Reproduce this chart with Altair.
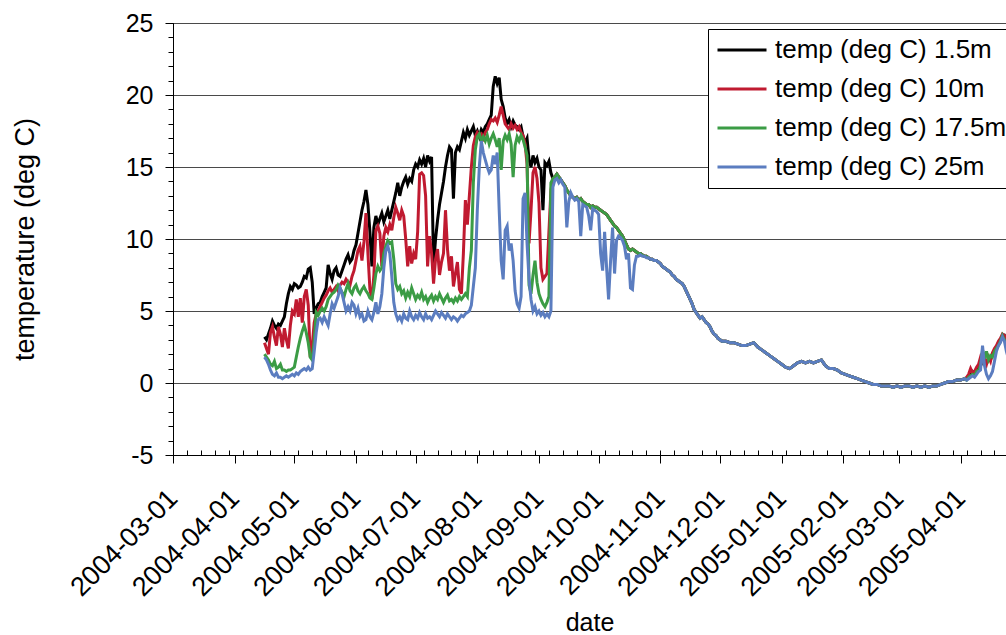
import altair as alt
import pandas as pd

START = pd.Timestamp("2004-03-01")

series_names = ["temp (deg C) 1.5m", "temp (deg C) 10m", "temp (deg C) 17.5m", "temp (deg C) 25m"]
series_colors = ["#000000", "#c01a30", "#3b9c45", "#5b7dc0"]

# ---- segment A: day 46 .. 190 (daily), all four depths differ ----
black_a = [3.2, 3.0, 3.4, 3.8, 4.3, 4.0, 3.8, 4.1, 4.0, 4.3,
           4.6, 5.5, 6.2, 6.7, 6.5, 6.9, 6.8, 6.6, 6.7, 7.0,
           7.4, 7.3, 7.9, 8.0, 7.0, 4.8, 5.2, 5.5, 5.6, 6.0,
           6.3, 6.6, 8.2, 7.6, 7.2, 7.8, 8.0, 7.5, 7.4, 7.8,
           8.2, 8.6, 8.9, 8.4, 8.6, 9.2, 9.6, 10.4, 11.2, 12.0,
           12.6, 13.4, 12.4, 10.5, 8.1, 10.8, 11.6, 11.0, 11.4, 11.8,
           11.2, 11.6, 12.0, 11.4, 12.0, 12.6, 13.2, 13.9, 13.0, 13.6,
           14.0, 14.3, 13.8, 14.2, 14.0, 14.8, 15.2, 15.0, 15.5, 15.2,
           15.6, 15.0, 15.8, 15.4, 15.7, 8.1, 10.0, 11.3, 12.4, 13.2,
           14.0, 15.0, 15.8, 16.4, 16.2, 12.8, 16.0, 16.4, 16.2, 16.8,
           17.4, 17.0, 17.6, 17.2, 17.5, 17.8, 17.2, 17.5, 17.1, 17.6,
           17.4, 17.8, 18.0, 18.3, 18.6, 20.6, 21.3, 20.8, 21.2, 19.7,
           19.2, 18.4, 18.0, 18.3, 17.8, 18.2, 17.9, 17.8, 17.6, 17.8,
           17.1, 16.7, 17.0, 15.5, 15.0, 15.8, 15.3, 15.6, 15.0, 14.8,
           12.0, 15.3, 15.1, 15.4, 14.6]
red_a = [2.8, 2.4, 2.0, 3.5, 3.9, 3.2, 2.6, 3.9, 3.4, 2.5,
         3.8, 3.0, 2.4, 4.0, 5.0, 4.8, 5.8, 4.6, 5.9, 4.2,
         6.0, 6.5, 5.4, 1.8, 2.6, 4.2, 4.8, 5.0, 5.3, 5.6,
         5.9, 6.1, 6.4, 6.6, 6.3, 6.5, 6.7, 6.4, 6.8, 7.0,
         6.9, 7.2, 7.0, 6.8, 7.4, 7.8, 8.5, 9.2, 9.5, 8.5,
         9.8, 11.8, 9.0, 6.5, 5.8, 7.5, 10.6, 10.9, 10.4, 8.1,
         10.2, 10.8, 10.5, 11.0, 10.6, 11.5, 12.2, 11.8, 11.3, 12.0,
         11.6, 10.0, 8.1, 9.5, 8.3, 9.0, 8.6, 10.5, 14.5, 14.6,
         14.4, 13.0, 8.1, 10.2, 9.0, 6.9, 8.6, 9.3, 7.5, 8.4,
         9.0, 12.0, 9.3, 7.8, 8.8, 6.7, 7.6, 8.4, 6.5, 6.2,
         9.0, 12.7, 11.0, 13.0, 15.0, 16.5, 17.1, 17.4, 17.2, 17.3,
         17.0, 17.4, 17.6, 18.0, 18.3, 18.2, 18.4, 18.1, 18.6, 19.2,
         18.6, 18.0, 17.8, 17.6, 18.0, 17.7, 17.9, 17.6, 17.8, 17.4,
         17.2, 16.6, 15.2, 9.7, 12.0, 14.6, 15.0, 14.2, 12.5, 8.0,
         7.2, 7.4, 7.6, 10.5, 13.4]
green_a = [2.0, 1.8, 1.6, 1.3, 1.2, 1.5, 1.0, 1.1, 1.3, 0.9,
           0.9, 0.8, 0.9, 0.9, 1.0, 1.1, 1.8, 2.5, 3.1, 3.6,
           4.0, 3.5, 2.8, 1.8, 1.6, 3.0, 4.9, 4.7, 5.0, 5.2,
           5.0, 5.3, 5.8, 6.0, 6.2, 6.3, 6.5, 6.8, 6.6, 6.3,
           6.0, 6.5, 6.9, 6.4, 6.2, 6.6, 6.8, 6.4, 6.2, 6.5,
           6.7, 6.4, 6.2, 5.9, 5.8, 6.6, 7.6, 8.1, 7.8, 8.0,
           9.0, 9.5, 9.9, 9.7, 9.8, 8.6, 6.9, 6.5, 6.7, 6.2,
           6.4, 5.9, 6.3, 6.0, 6.6, 6.2, 5.8, 6.1, 5.9, 6.3,
           5.8, 6.0, 5.6, 5.9, 6.1, 5.7, 6.0, 5.8, 6.2, 5.9,
           5.6, 5.9, 6.1, 5.7, 5.8, 5.6, 5.9, 5.7, 6.0, 5.8,
           6.0, 6.2, 6.0, 8.0, 9.2, 13.9, 16.2, 17.1, 17.3, 16.8,
           17.1, 16.8, 17.2, 16.6, 17.0, 17.3, 16.9, 16.4, 17.0, 14.8,
           16.8, 17.2, 16.9, 17.3, 16.6, 14.3, 16.5, 17.1, 16.8, 17.2,
           16.9, 16.4, 15.8, 6.8, 6.2, 7.5, 8.5, 7.0, 6.2, 5.8,
           5.5, 5.3, 5.6, 6.0, 13.9]
blue_a = [1.8, 1.6, 1.3, 0.9, 0.6, 0.5, 0.7, 0.4, 0.4, 0.3,
          0.4, 0.5, 0.4, 0.5, 0.6, 0.5, 0.7, 0.6, 0.8, 0.9,
          1.0, 0.9, 1.1, 0.9, 1.0, 2.2, 3.5, 4.4, 4.5, 4.2,
          4.6, 4.3, 4.0, 4.8, 5.5, 5.2, 5.6, 6.0, 6.6, 6.2,
          5.6, 5.0, 5.3, 5.0, 5.6, 5.4, 4.8, 5.2, 4.6, 4.8,
          4.3, 4.4, 5.0, 4.6, 4.4, 4.9, 5.6, 4.8, 5.3, 6.2,
          8.0, 9.2, 9.5, 9.0, 7.4, 5.6, 4.8, 4.4, 4.6, 4.3,
          4.8, 4.5, 4.4, 5.0, 4.6, 4.4, 4.7, 4.5, 4.9, 4.6,
          4.4, 4.8, 4.5, 4.6, 4.4, 4.7, 5.0, 4.8, 4.6, 4.9,
          4.7, 4.5, 4.8, 4.6, 4.4, 4.6, 4.5, 4.3, 4.5, 4.7,
          4.6, 4.8, 4.9, 5.0, 5.4, 6.7, 8.0, 12.0, 15.0, 16.8,
          16.0, 15.5, 15.0, 14.6, 14.8, 15.8, 15.2, 16.0, 12.0, 8.5,
          7.2, 10.6, 10.9, 9.2, 9.7, 8.5, 6.4, 5.5, 5.2, 6.0,
          12.8, 13.2, 9.7, 7.2, 5.8, 5.0, 5.3, 4.8, 5.0, 4.7,
          4.9, 4.6, 4.8, 4.6, 5.0]

# ---- segment B: day 191 .. 239 (daily): 1.5m/10m/17.5m together, 25m apart ----
upper_b = [14.2, 14.3, 14.5, 14.3, 14.1, 13.9, 13.7, 13.4, 13.2, 13.0,
           12.9, 12.8, 12.9, 12.7, 12.8, 12.6, 12.5, 12.4, 12.4, 12.2,
           12.3, 12.2, 12.2, 12.1, 12.0, 11.9, 11.8, 11.7, 11.5, 11.3,
           11.1, 10.9, 10.8, 10.6, 10.4, 10.2, 9.9, 9.6, 9.3, 9.2,
           9.3, 9.2, 9.1, 9.0, 9.0, 8.9, 8.8, 8.8, 8.7]
blue_b = [13.6, 14.1, 14.2, 13.9, 14.1, 13.8, 13.6, 10.8, 12.6, 13.2,
          12.9, 12.7, 12.8, 12.6, 10.2, 12.4, 12.3, 12.2, 11.6, 10.6,
          12.1, 12.0, 11.9, 11.7, 9.0, 7.8, 10.5, 8.0, 5.8, 8.5,
          10.8, 7.6, 9.9, 10.2, 10.1, 9.9, 9.5, 8.6, 9.0, 6.6,
          6.5, 8.2, 8.8, 8.8, 8.9, 8.8, 8.8, 8.7, 8.7]

# ---- segment C: all depths coincide; day 240..276 daily, then 278..398 every 2 days ----
common_c1 = [8.6, 8.6, 8.5, 8.5, 8.4, 8.3, 8.1, 8.0, 7.9, 7.8,
             7.7, 7.5, 7.4, 7.2, 7.1, 7.0, 6.9, 6.7, 6.4, 6.1,
             5.8, 5.5, 5.1, 4.9, 4.7, 4.5, 4.6, 4.4, 4.2, 4.1,
             3.9, 3.6, 3.4, 3.3, 3.1, 3.0, 2.9]
common_c2 = [2.9, 2.8, 2.8, 2.7, 2.6, 2.6, 2.7, 2.8, 2.5, 2.3,
             2.1, 1.9, 1.7, 1.5, 1.3, 1.1, 1.0, 1.2, 1.4, 1.5,
             1.4, 1.5, 1.4, 1.5, 1.6, 1.2, 1.0, 1.0, 0.9, 0.7,
             0.6, 0.5, 0.4, 0.3, 0.2, 0.1, 0.0, -0.1, -0.1, -0.2,
             -0.2, -0.2, -0.3, -0.2, -0.3, -0.2, -0.2, -0.3, -0.2, -0.3,
             -0.2, -0.3, -0.2, -0.2, -0.1, 0.0, 0.1, 0.1, 0.2, 0.2,
             0.3]

# ---- segment D: day 399 .. 422 (daily), spring warming ----
black_d = [0.3, 0.5, 0.6, 0.8, 0.7, 0.9, 1.0, 1.2, 1.5, 1.6,
           1.4, 1.7, 1.6, 2.0, 2.2, 2.5, 2.8, 3.0, 3.2, 3.3,
           3.0, 2.8, 2.6, 2.4]
red_d = [0.4, 0.6, 1.0, 0.7, 0.8, 1.1, 1.3, 1.8, 1.5, 1.7,
         1.3, 1.8, 1.5, 2.1, 2.4, 2.6, 2.9, 3.1, 3.4, 3.3,
         3.0, 2.9, 2.7, 2.5]
green_d = [0.2, 0.4, 0.5, 0.6, 0.5, 0.8, 0.9, 1.2, 2.3, 1.7,
           2.2, 1.6, 1.9, 1.8, 2.2, 2.4, 2.6, 2.9, 3.3, 3.0,
           2.7, 2.5, 2.3, 2.1]
blue_d = [0.2, 0.3, 0.4, 0.5, 0.4, 0.6, 0.8, 0.9, 2.6, 1.2,
          0.6, 0.3, 0.5, 0.8, 1.5, 2.2, 2.6, 2.8, 3.2, 2.9,
          2.2, 1.7, 1.4, 1.2]

days_a = list(range(46, 191))
days_b = list(range(191, 240))
days_c = list(range(240, 277)) + list(range(278, 399, 2))
days_d = list(range(399, 423))
days_all = days_a + days_b + days_c + days_d

series_values = {
    series_names[0]: black_a + upper_b + common_c1 + common_c2 + black_d,
    series_names[1]: red_a + upper_b + common_c1 + common_c2 + red_d,
    series_names[2]: green_a + upper_b + common_c1 + common_c2 + green_d,
    series_names[3]: blue_a + blue_b + common_c1 + common_c2 + blue_d,
}

records = []
for name in series_names:
    vals = series_values[name]
    n = min(len(vals), len(days_all))
    for d, v in zip(days_all[:n], vals[:n]):
        records.append({
            "date": (START + pd.Timedelta(days=d)).strftime("%Y-%m-%dT%H:%M:%S"),
            "temp": v,
            "series": name,
        })
df = pd.DataFrame(records)

FONT = "Liberation Sans"
x_scale = alt.Scale(domain=[alt.DateTime(year=2004, month=3, date=1),
                            alt.DateTime(year=2005, month=4, date=23, hours=19, minutes=12)])
y_scale = alt.Scale(domain=[-5, 25], nice=False, zero=False)

month_ticks = [alt.DateTime(year=t.year, month=t.month, date=t.day)
               for t in pd.date_range("2004-03-01", "2005-04-01", freq="MS")]
week_ticks = [alt.DateTime(year=t.year, month=t.month, date=t.day)
              for t in pd.date_range("2004-03-01", "2005-04-23", freq="7D")]

x_axis = alt.Axis(values=month_ticks, format="%Y-%m-%d", labelAngle=-45, labelAlign="right",
                  labelBaseline="middle", labelFontSize=27, labelPadding=31, labelFlush=False,
                  labelOverlap=False, tickSize=8, grid=False, title="date", titleFontSize=25,
                  titleY=175, titleBaseline="alphabetic")
y_axis = alt.Axis(values=[-5, 0, 5, 10, 15, 20, 25], labelExpr="datum.value", labelFontSize=25,
                  labelPadding=12, tickSize=8, grid=True, gridColor="#4a4a4a", gridWidth=1,
                  title="temperature (deg C)", titleFontSize=27, titleX=-148, titleY=216,
                  titleAngle=270, titleAlign="center", titleBaseline="middle")

legend = alt.Legend(orient="none", legendX=535, legendY=6, title=None, labelFontSize=26,
                    labelFont=FONT, labelColor="black", labelLimit=600, symbolType="stroke",
                    symbolSize=2401, symbolStrokeWidth=3, strokeColor="black", fillColor="white",
                    padding=8, clipHeight=26, rowPadding=13, labelOffset=7, symbolOffset=0)
color = alt.Color("series:N", scale=alt.Scale(domain=series_names, range=series_colors), legend=legend)

layers = []
for i, name in enumerate(series_names):
    first = i == 0
    layers.append(
        alt.Chart(df).transform_filter(alt.datum.series == name)
        .mark_line(strokeWidth=3, clip=True)
        .encode(
            x=alt.X("date:T", scale=x_scale, axis=x_axis if first else None),
            y=alt.Y("temp:Q", scale=y_scale, axis=y_axis if first else None),
            color=color,
        )
    )

minor = (
    alt.Chart(df).transform_filter(alt.datum.series == series_names[0])
    .mark_point(opacity=0)
    .encode(
        x=alt.X("date:T", scale=x_scale,
                axis=alt.Axis(orient="top", offset=-432, values=week_ticks, labels=False,
                              tickSize=5, domain=False, grid=False, title=None)),
        y=alt.Y("temp:Q", scale=y_scale,
                axis=alt.Axis(orient="left", values=list(range(-5, 26)), labels=False,
                              tickSize=5, domain=False, grid=False, title=None)),
    )
)

chart = (
    alt.layer(*layers, minor)
    .resolve_axis(x="independent", y="independent")
    .properties(width=833, height=432,
                autosize=alt.AutoSizeParams(type="none"),
                padding={"left": 173, "top": 23, "right": 0, "bottom": 180})
    .configure(font=FONT)
    .configure_view(stroke="black", strokeWidth=1)
    .configure_axis(labelColor="black", titleColor="black", tickColor="black",
                    domainColor="black", labelFont=FONT, titleFont=FONT,
                    titleFontWeight="normal")
)

chart.save("out.html", embed_options={"renderer": "svg", "actions": False})
